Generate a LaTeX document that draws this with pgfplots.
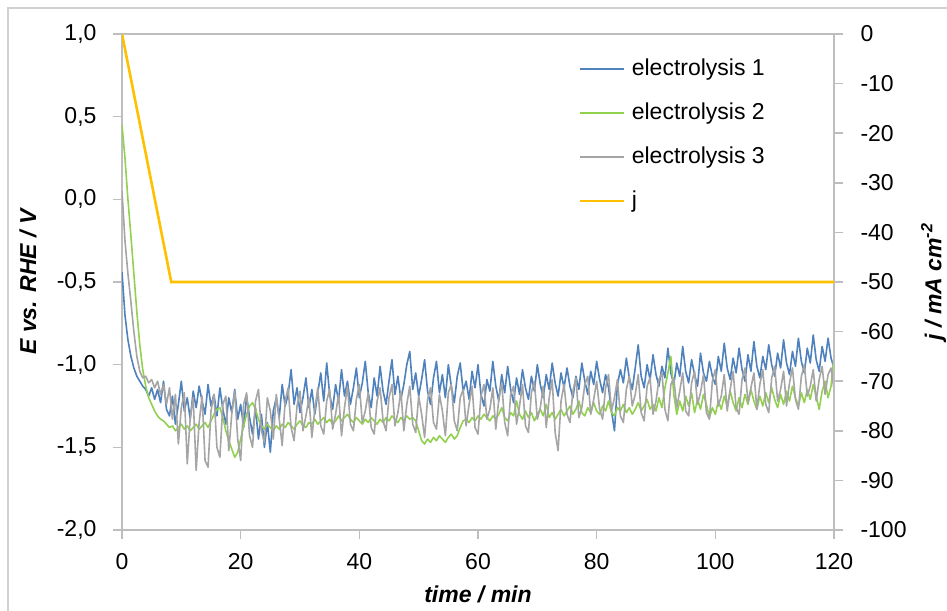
\documentclass[border=0pt]{standalone}
\usepackage{fontspec}
\setmainfont{Liberation Sans}
\usepackage{pgfplots}
\usepackage{pgfplotstable}
\pgfplotsset{compat=1.18}

\definecolor{eblue}{HTML}{4F81BD}
\definecolor{egreen}{HTML}{92D050}
\definecolor{egray}{HTML}{A5A5A5}
\definecolor{jyellow}{HTML}{FFC000}
\definecolor{axisgray}{HTML}{BEBEBE}
\definecolor{framegray}{HTML}{D0D0D0}

\newcommand{\chartfont}{\fontsize{23}{27}\selectfont}
\newcommand{\titlefont}{\fontsize{23}{27}\selectfont\bfseries\itshape}

% potential (V vs. RHE) of the three electrolysis runs, sampled every 0.5 min
\pgfplotstableread{
t e1 e2 e3
0 -0.44 0.45 0.05
0.5 -0.70 0.25 -0.25
1 -0.85 0.00 -0.45
1.5 -0.95 -0.22 -0.62
2 -1.02 -0.45 -0.80
2.5 -1.07 -0.68 -0.95
3 -1.10 -0.88 -1.04
3.5 -1.13 -1.03 -1.08
4 -1.15 -1.13 -1.07
4.5 -1.19 -1.20 -1.11
5 -1.14 -1.24 -1.09
5.5 -1.21 -1.28 -1.14
6 -1.15 -1.31 -1.10
6.5 -1.23 -1.33 -1.18
7 -1.10 -1.34 -1.12
7.5 -1.27 -1.36 -1.24
8 -1.31 -1.38 -1.14
8.5 -1.19 -1.37 -1.33
9 -1.36 -1.40 -1.18
9.5 -1.24 -1.38 -1.48
10 -1.10 -1.36 -1.26
10.5 -1.28 -1.39 -1.17
11 -1.20 -1.37 -1.60
11.5 -1.33 -1.40 -1.32
12 -1.16 -1.38 -1.20
12.5 -1.26 -1.36 -1.64
13 -1.13 -1.39 -1.35
13.5 -1.22 -1.37 -1.19
14 -1.30 -1.35 -1.58
14.5 -1.12 -1.38 -1.62
15 -1.25 -1.34 -1.28
15.5 -1.18 -1.30 -1.18
16 -1.31 -1.27 -1.50
16.5 -1.14 -1.26 -1.56
17 -1.27 -1.32 -1.24
17.5 -1.36 -1.40 -1.19
18 -1.20 -1.46 -1.52
18.5 -1.29 -1.51 -1.30
19 -1.15 -1.56 -1.16
19.5 -1.33 -1.53 -1.45
20 -1.24 -1.45 -1.58
20.5 -1.38 -1.37 -1.24
21 -1.19 -1.30 -1.17
21.5 -1.32 -1.25 -1.43
22 -1.42 -1.23 -1.50
22.5 -1.26 -1.27 -1.22
23 -1.45 -1.33 -1.15
23.5 -1.30 -1.37 -1.40
24 -1.50 -1.39 -1.47
24.5 -1.35 -1.36 -1.20
25 -1.53 -1.38 -1.28
25.5 -1.28 -1.40 -1.45
26 -1.20 -1.37 -1.18
26.5 -1.32 -1.39 -1.33
27 -1.12 -1.36 -1.49
27.5 -1.25 -1.38 -1.22
28 -1.18 -1.35 -1.14
28.5 -1.03 -1.37 -1.38
29 -1.24 -1.39 -1.46
29.5 -1.14 -1.36 -1.25
30 -1.29 -1.34 -1.16
30.5 -1.20 -1.37 -1.40
31 -1.08 -1.38 -1.31
31.5 -1.26 -1.35 -1.20
32 -1.15 -1.36 -1.44
32.5 -1.30 -1.33 -1.27
33 -1.17 -1.36 -1.14
33.5 -1.05 -1.34 -1.37
34 -1.22 -1.32 -1.42
34.5 -0.99 -1.35 -1.22
35 -1.18 -1.33 -1.15
35.5 -1.27 -1.36 -1.39
36 -1.12 -1.34 -1.30
36.5 -1.22 -1.31 -1.18
37 -1.03 -1.34 -1.43
37.5 -1.19 -1.32 -1.26
38 -1.10 -1.30 -1.13
38.5 -1.24 -1.33 -1.36
39 -1.14 -1.35 -1.40
39.5 -1.02 -1.32 -1.21
40 -1.20 -1.34 -1.12
40.5 -1.11 -1.36 -1.35
41 -0.98 -1.33 -1.28
41.5 -1.17 -1.35 -1.17
42 -1.26 -1.32 -1.38
42.5 -1.08 -1.34 -1.42
43 -1.19 -1.36 -1.22
43.5 -1.01 -1.33 -1.14
44 -1.16 -1.35 -1.34
44.5 -1.24 -1.32 -1.40
45 -1.10 -1.34 -1.20
45.5 -0.97 -1.31 -1.12
46 -1.18 -1.33 -1.37
46.5 -1.07 -1.35 -1.29
47 -1.21 -1.32 -1.16
47.5 -1.12 -1.34 -1.40
48 -1.00 -1.31 -1.24
48.5 -0.92 -1.33 -1.13
49 -1.15 -1.32 -1.36
49.5 -1.05 -1.34 -1.41
50 -1.19 -1.40 -1.19
50.5 -1.09 -1.46 -1.30
51 -0.97 -1.48 -1.44
51.5 -1.16 -1.45 -1.21
52 -1.24 -1.47 -1.14
52.5 -1.08 -1.44 -1.35
53 -0.98 -1.46 -1.39
53.5 -1.17 -1.43 -1.18
54 -1.06 -1.45 -1.28
54.5 -1.20 -1.47 -1.43
55 -1.00 -1.44 -1.17
55.5 -1.13 -1.42 -1.12
56 -1.23 -1.45 -1.34
56.5 -1.07 -1.43 -1.40
57 -0.99 -1.38 -1.20
57.5 -1.16 -1.34 -1.15
58 -1.10 -1.33 -1.37
58.5 -1.21 -1.35 -1.24
59 -1.04 -1.32 -1.13
59.5 -1.14 -1.34 -1.38
60 -1.00 -1.31 -1.42
60.5 -1.18 -1.33 -1.19
61 -1.25 -1.30 -1.12
61.5 -1.09 -1.32 -1.33
62 -1.16 -1.34 -1.27
62.5 -0.98 -1.31 -1.14
63 -1.13 -1.33 -1.39
63.5 -1.22 -1.30 -1.21
64 -1.06 -1.26 -1.11
64.5 -1.17 -1.32 -1.35
65 -1.01 -1.34 -1.43
65.5 -1.15 -1.29 -1.18
66 -1.23 -1.31 -1.13
66.5 -1.08 -1.22 -1.36
67 -1.18 -1.30 -1.25
67.5 -1.03 -1.33 -1.12
68 -1.14 -1.28 -1.37
68.5 -1.21 -1.32 -1.41
69 -1.07 -1.29 -1.17
69.5 -1.16 -1.34 -1.10
70 -1.00 -1.30 -1.33
70.5 -1.12 -1.27 -1.26
71 -1.20 -1.31 -1.13
71.5 -1.06 -1.24 -1.38
72 -1.15 -1.32 -1.20
72.5 -0.99 -1.29 -1.09
73 -1.11 -1.33 -1.41
73.5 -1.19 -1.30 -1.52
74 -1.05 -1.27 -1.22
74.5 -1.14 -1.31 -1.12
75 -1.02 -1.28 -1.30
75.5 -1.13 -1.25 -1.35
76 -1.20 -1.30 -1.16
76.5 -1.07 -1.27 -1.08
77 -1.15 -1.22 -1.32
77.5 -0.99 -1.29 -1.26
78 -1.10 -1.31 -1.12
78.5 -1.18 -1.26 -1.07
79 -1.04 -1.29 -1.30
79.5 -1.12 -1.23 -1.21
80 -0.98 -1.28 -1.10
80.5 -1.09 -1.30 -1.27
81 -1.17 -1.25 -1.33
81.5 -1.06 -1.28 -1.14
82 -1.14 -1.22 -1.06
82.5 -1.28 -1.29 -1.28
83 -1.40 -1.31 -1.20
83.5 -1.12 -1.26 -1.09
84 -1.03 -1.28 -1.31
84.5 -1.11 -1.24 -1.35
85 -0.96 -1.29 -1.15
85.5 -1.08 -1.26 -1.07
86 -1.15 -1.30 -1.25
86.5 -1.02 -1.27 -1.18
87 -0.88 -1.23 -1.06
87.5 -1.07 -1.28 -1.29
88 -1.14 -1.25 -1.34
88.5 -1.00 -1.21 -1.13
89 -1.09 -1.27 -1.08
89.5 -0.94 -1.24 -1.30
90 -1.06 -1.28 -1.22
90.5 -1.13 -1.20 -1.09
91 -1.01 -1.26 -1.05
91.5 -1.08 -1.14 -1.27
92 -0.90 -1.05 -1.34
92.5 -1.05 -0.95 -1.12
93 -1.12 -1.18 -1.08
93.5 -0.99 -1.30 -1.26
94 -1.07 -1.22 -1.16
94.5 -0.89 -1.28 -1.05
95 -1.04 -1.19 -1.28
95.5 -1.11 -1.25 -1.31
96 -0.97 -1.17 -1.11
96.5 -1.06 -1.29 -1.04
97 -1.13 -1.21 -1.24
97.5 -0.93 -1.27 -1.17
98 -1.05 -1.18 -1.06
98.5 -1.10 -1.24 -1.29
99 -0.98 -1.32 -1.33
99.5 -1.07 -1.26 -1.10
100 -1.12 -1.30 -1.03
100.5 -0.95 -1.22 -1.25
101 -1.04 -1.27 -1.19
101.5 -0.87 -1.19 -1.06
102 -1.02 -1.25 -1.28
102.5 -1.09 -1.16 -1.15
103 -0.96 -1.23 -1.04
103.5 -1.05 -1.28 -1.26
104 -0.90 -1.20 -1.30
104.5 -1.03 -1.26 -1.09
105 -1.10 -1.18 -1.02
105.5 -0.94 -1.24 -1.23
106 -1.04 -1.15 -1.14
106.5 -0.86 -1.22 -1.05
107 -1.01 -1.27 -1.27
107.5 -1.08 -1.19 -1.12
108 -0.95 -1.25 -1.03
108.5 -1.03 -1.17 -1.24
109 -0.88 -1.23 -1.29
109.5 -1.00 -1.14 -1.08
110 -1.07 -1.21 -1.01
110.5 -0.93 -1.26 -1.22
111 -1.02 -1.18 -1.15
111.5 -0.85 -1.24 -1.04
112 -0.99 -1.16 -1.25
112.5 -1.06 -1.22 -1.11
113 -0.92 -1.13 -1.02
113.5 -1.01 -1.20 -1.21
114 -0.84 -1.25 -1.27
114.5 -0.98 -1.17 -1.07
115 -1.05 -1.23 -1.00
115.5 -0.90 -1.15 -1.19
116 -0.99 -1.21 -1.13
116.5 -0.82 -1.12 -1.03
117 -0.97 -1.19 -1.22
117.5 -1.04 -1.27 -1.09
118 -0.89 -1.16 -1.01
118.5 -0.98 -1.10 -1.18
119 -0.84 -1.20 -1.06
119.5 -0.96 -1.13 -1.02
120 -1.02 -0.95 -1.15
}\potentialtab

% applied current density (mA cm^-2)
\pgfplotstableread{
t j
0 0
8.3 -50
120 -50
}\currenttab

\pgfplotsset{
  every axis/.append style={
    scale only axis, width=712pt, height=496pt,
    at={(0,0)}, anchor=south west,
    xmin=0, xmax=120,
    axis line style={axisgray, line width=1.6pt},
    tick style={axisgray, line width=1.6pt},
    tick align=outside, major tick length=9pt,
    tick label style={font=\chartfont},
    /pgf/number format/assume math mode=true,
  },
}

\begin{document}
\begin{tikzpicture}[x=1pt,y=1pt]
\useasboundingbox (-122,-80) rectangle (825,530);
\draw[framegray, line width=1.3pt] (-114,-90) -- (-114,522) -- (835,522);

\begin{axis}[
  ymin=-2, ymax=1,
  xtick={0,20,40,60,80,100,120},
  ytick={-2,-1.5,-1,-0.5,0,0.5,1},
  xtick pos=bottom, ytick pos=left,
  yticklabel style={xshift=-13pt, /pgf/number format/.cd, use comma, fixed, fixed zerofill, precision=1},
  xticklabel style={yshift=-11pt},
  xlabel={time / min},
  ylabel={E vs. RHE / V},
  every axis x label/.style={at={(axis description cs:0.5,-0.129)}, anchor=center, font=\titlefont},
  every axis y label/.style={at={(axis description cs:-0.132,0.5)}, anchor=center, rotate=90, font=\titlefont},
  legend style={at={(0.6405,0.9577)}, anchor=north west, draw=none, fill=none,
    font=\chartfont, inner sep=0pt,
    nodes={text height=17pt, text depth=5pt, inner sep=3pt}, row sep=16pt},
  legend cell align=left,
  legend image code/.code={\draw[#1] (0pt,0pt) -- (44pt,0pt); \path (48pt,0pt);},
  line join=round,
]
\addplot[eblue, line width=1.6pt] table[x=t, y=e1] {\potentialtab};
\addlegendentry{electrolysis 1}
\addplot[egreen, line width=1.6pt] table[x=t, y=e2] {\potentialtab};
\addlegendentry{electrolysis 2}
\addplot[egray, line width=1.6pt] table[x=t, y=e3] {\potentialtab};
\addlegendentry{electrolysis 3}
\addlegendimage{jyellow, line width=2.6pt}
\addlegendentry{j}
\end{axis}

\begin{axis}[
  ymin=-100, ymax=0,
  ytick={-100,-90,-80,-70,-60,-50,-40,-30,-20,-10,0},
  yticklabel style={xshift=14pt},
  axis x line=none, axis y line*=right,
  ylabel={j / mA cm\textsuperscript{-2}},
  every axis y label/.style={at={(axis description cs:1.140,0.5)}, anchor=center, rotate=90, font=\titlefont},
]
\addplot[jyellow, line width=2.6pt] table[x=t, y=j] {\currenttab};
\end{axis}
\end{tikzpicture}
\end{document}
